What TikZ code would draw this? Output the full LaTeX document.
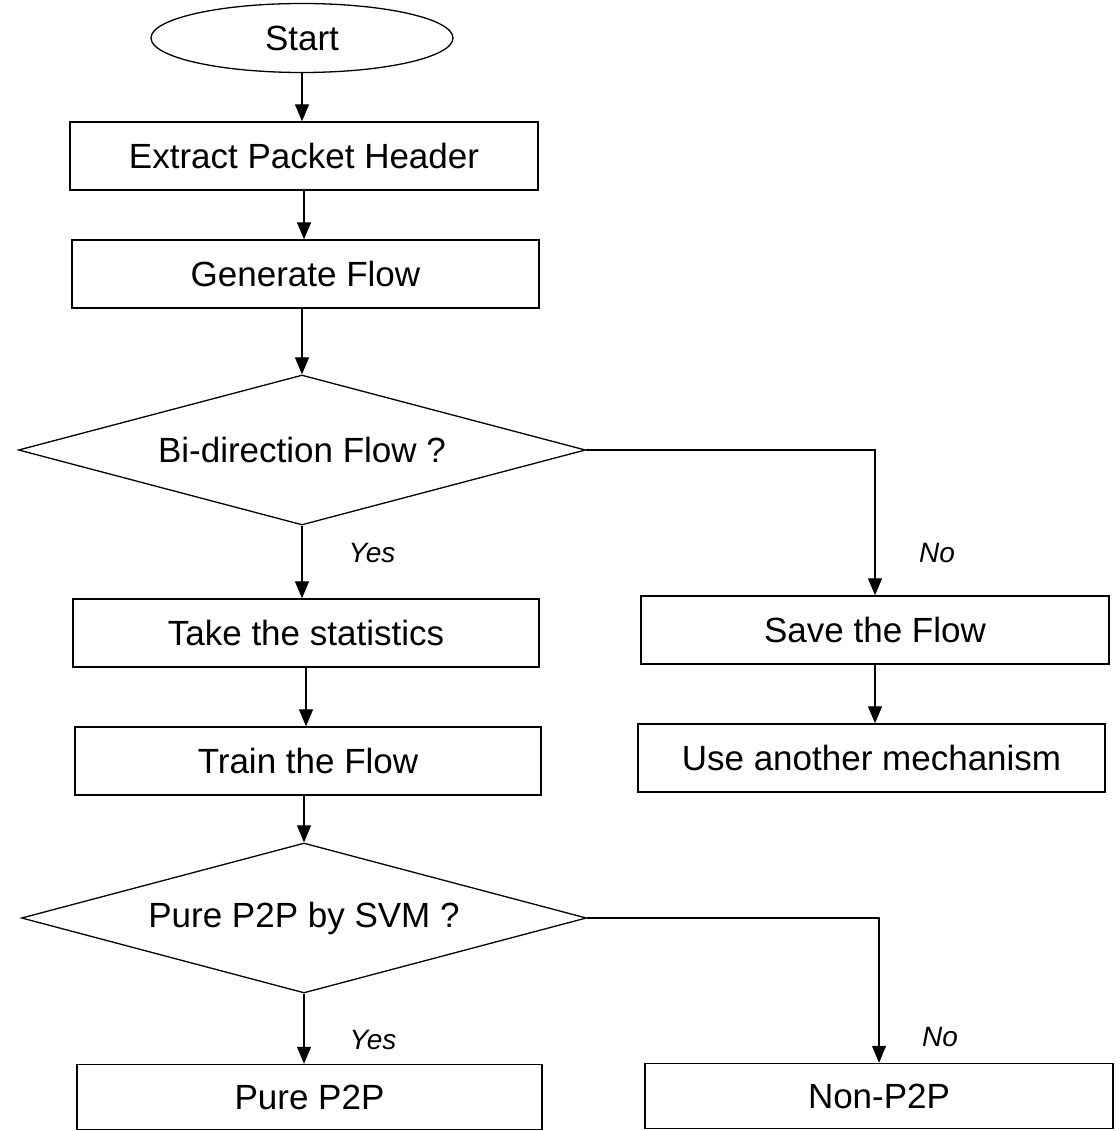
\documentclass[tikz,border=0pt]{standalone}
\usepackage{fontspec}
\setmainfont{Liberation Sans}
\usetikzlibrary{shapes.geometric,arrows.meta}
\begin{document}
\begin{tikzpicture}[x=1pt,y=-1pt,
  box/.style={draw,line width=1.4pt,rectangle,inner sep=0pt,font=\fontsize{35}{40}\selectfont},
  decision/.style={draw,line width=1.3pt,diamond,aspect=3.78,inner sep=0pt,font=\fontsize{35}{40}\selectfont},
  term/.style={draw,line width=1.3pt,ellipse,inner sep=0pt,font=\fontsize{35}{40}\selectfont},
  arr/.style={line width=1.2pt,-{Triangle[length=17pt,width=14pt]}},
  lbl/.style={font=\fontsize{28}{32}\selectfont\itshape,inner sep=0pt}]
\useasboundingbox (0,0) rectangle (1119,1131);
\node[term,minimum width=302pt,minimum height=69pt] (start) at (302,38) {Start};
\node[box,minimum width=468pt,minimum height=68pt] (extract) at (304,156) {Extract Packet Header};
\node[box,minimum width=467pt,minimum height=68pt] (gen) at (305.5,274) {Generate Flow};
\node[decision,minimum width=567pt,minimum height=150pt] (bidir) at (302,450) {Bi-direction Flow ?};
\node[box,minimum width=466pt,minimum height=68pt] (stats) at (306,633) {Take the statistics};
\node[box,minimum width=466pt,minimum height=68pt] (train) at (308,761) {Train the Flow};
\node[decision,minimum width=565pt,minimum height=150pt] (svm) at (304,918) {Pure P2P by SVM ?};
\node[box,minimum width=465pt,minimum height=65pt] (pure) at (309.5,1097) {Pure P2P};
\node[box,minimum width=468pt,minimum height=68pt] (save) at (875,630) {Save the Flow};
\node[box,minimum width=467pt,minimum height=68pt] (use) at (871.5,758) {Use another mechanism};
\node[box,minimum width=468pt,minimum height=65pt] (non) at (879,1096) {Non-P2P};
\node[lbl] (yes1) at (372,553) {Yes};
\node[lbl] (no1) at (937,553) {No};
\node[lbl] (yes2) at (373,1040) {Yes};
\node[lbl] (no2) at (940,1037) {No};
\draw[arr] (start.south) -- (start.south |- extract.north);
\draw[arr] (extract.south) -- (extract.south |- gen.north);
\draw[arr] (bidir.north |- gen.south) -- (bidir.north);
\draw[arr] (bidir.south) -- (bidir.south |- stats.north);
\draw[arr] (bidir.east) -| (save.north);
\draw[arr] (save.south) -- (save.south |- use.north);
\draw[arr] (stats.south) -- (stats.south |- train.north);
\draw[arr] (svm.north |- train.south) -- (svm.north);
\draw[arr] (svm.south) -- (svm.south |- pure.north);
\draw[arr] (svm.east) -| (non.north);
\end{tikzpicture}
\end{document}
